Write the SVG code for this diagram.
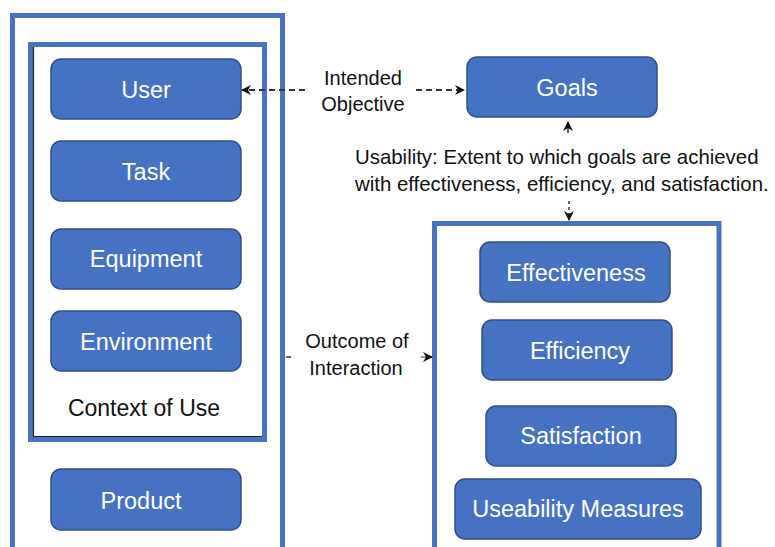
<svg xmlns="http://www.w3.org/2000/svg" width="775" height="547" viewBox="0 0 775 547">
<style>
.frame{fill:none;stroke:#4A72BE;stroke-width:5}
.node rect{fill:#4672C3;stroke:#2F4F86;stroke-width:1.5}
.node text{fill:#fff;font-family:"Liberation Sans",Arial,sans-serif;font-size:23.5px;text-anchor:middle}
.lbl{fill:#111;font-family:"Liberation Sans",Arial,sans-serif;font-size:20px}
.dash{fill:none;stroke:#333;stroke-width:2;stroke-dasharray:6,4}
</style>
<defs>
<marker id="ah" viewBox="0 0 10 10" refX="9" refY="5" markerWidth="10" markerHeight="10" markerUnits="userSpaceOnUse" orient="auto">
<path d="M0,0 L10,5 L0,10 L3,5 Z" fill="#111"/>
</marker>
</defs>
<rect width="775" height="547" fill="#fff"/>
<g id="product-frame"><rect class="frame" x="12.5" y="15.5" width="270" height="535"/></g>
<g id="context-of-use">
<rect class="frame" x="30.5" y="44.5" width="234" height="395"/>
<path d="M33.5,47 V436.5 H262" fill="none" stroke="#222" stroke-width="1.2"/>
<text class="lbl" x="144" y="416" text-anchor="middle" style="font-size:23px">Context of Use</text>
</g>
<g id="measures-frame"><rect class="frame" x="434.5" y="223.5" width="284.5" height="330"/></g>
<g id="user" class="node"><rect x="51" y="59" width="190" height="60" rx="10"/><text x="146" y="98">User</text></g>
<g id="task" class="node"><rect x="51" y="141" width="190" height="60" rx="10"/><text x="146" y="180">Task</text></g>
<g id="equipment" class="node"><rect x="51" y="229" width="190" height="60" rx="10"/><text x="146" y="267">Equipment</text></g>
<g id="environment" class="node"><rect x="51" y="311" width="190" height="60" rx="10"/><text x="146" y="350">Environment</text></g>
<g id="product" class="node"><rect x="51" y="469" width="190" height="61" rx="10"/><text x="141" y="509">Product</text></g>
<g id="goals" class="node"><rect x="467" y="57" width="190" height="60" rx="10"/><text x="567" y="96">Goals</text></g>
<g id="effectiveness" class="node"><rect x="480" y="242" width="190" height="60" rx="10"/><text x="576" y="281">Effectiveness</text></g>
<g id="efficiency" class="node"><rect x="482" y="320" width="190" height="60" rx="10"/><text x="580" y="359">Efficiency</text></g>
<g id="satisfaction" class="node"><rect x="486" y="406" width="190" height="60" rx="10"/><text x="581" y="444">Satisfaction</text></g>
<g id="useability-measures" class="node"><rect x="455" y="479" width="246" height="60" rx="10"/><text x="578" y="517">Useability Measures</text></g>
<g id="labels">
<text class="lbl" x="363" y="85" text-anchor="middle">Intended</text>
<text class="lbl" x="363" y="111" text-anchor="middle">Objective</text>
<text class="lbl" x="355" y="164" style="font-size:20.4px">Usability: Extent to which goals are achieved</text>
<text class="lbl" x="355" y="191" style="font-size:20.4px">with effectiveness, efficiency, and satisfaction.</text>
<text class="lbl" x="357" y="348" text-anchor="middle">Outcome of</text>
<text class="lbl" x="356" y="375" text-anchor="middle">Interaction</text>
</g>
<g id="connectors">
<line class="dash" x1="305" y1="90" x2="242" y2="90" marker-end="url(#ah)"/>
<line class="dash" x1="416" y1="90" x2="464" y2="90" marker-end="url(#ah)"/>
<line x1="568" y1="133" x2="568" y2="122" stroke="#333" stroke-width="1.5" marker-end="url(#ah)"/>
<line x1="569" y1="201" x2="569" y2="220" stroke="#333" stroke-width="1.5" stroke-dasharray="3,3" marker-end="url(#ah)"/>
<line x1="286" y1="357" x2="291" y2="357" stroke="#333" stroke-width="1.5"/>
<line x1="421" y1="357" x2="432" y2="357" stroke="#333" stroke-width="1" marker-end="url(#ah)"/>
</g>
</svg>
